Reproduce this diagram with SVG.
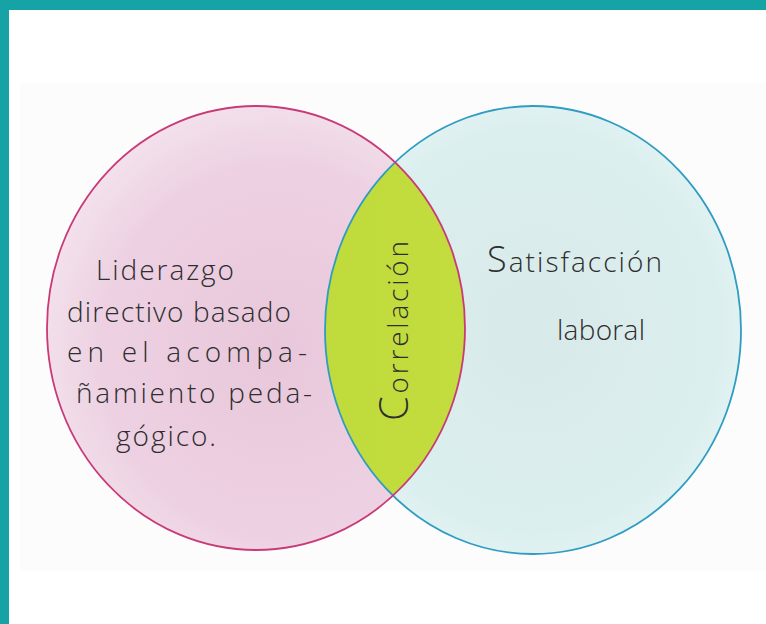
<svg xmlns="http://www.w3.org/2000/svg" width="766" height="624" viewBox="0 0 766 624">
<style>
.hand{font-family:"Open Sans","Liberation Sans",sans-serif;font-weight:300;fill:#2e2e2e;font-size:28px}
</style>
<defs>
<radialGradient id="gPink" cx="0.55" cy="0.55" r="0.6">
<stop offset="0" stop-color="#e9c7db"/>
<stop offset="0.7" stop-color="#edd1e2"/>
<stop offset="1" stop-color="#f4e4ee"/>
</radialGradient>
<radialGradient id="gBlue" cx="0.5" cy="0.5" r="0.6">
<stop offset="0" stop-color="#d8e9e9"/>
<stop offset="0.75" stop-color="#dcefef"/>
<stop offset="1" stop-color="#e7f5f6"/>
</radialGradient>
<linearGradient id="gLime" x1="0" y1="0" x2="1" y2="0">
<stop offset="0" stop-color="#cadd3e"/>
<stop offset="0.5" stop-color="#bedb3a"/>
<stop offset="1" stop-color="#c3dc3e"/>
</linearGradient>
<clipPath id="clipRight"><ellipse cx="533" cy="330" rx="208" ry="224"/></clipPath>
</defs>
<rect width="766" height="624" fill="#ffffff"/>
<rect x="20" y="83" width="746" height="488" fill="#fcfcfc"/>
<rect x="0" y="0" width="766" height="10" fill="#16a3a6"/>
<rect x="0" y="0" width="9" height="624" fill="#16a3a6"/>
<g id="liderazgo">
<ellipse cx="256" cy="328" rx="209" ry="222" fill="url(#gPink)"/>
</g>
<g id="satisfaccion">
<ellipse cx="533" cy="330" rx="208" ry="224" fill="url(#gBlue)"/>
</g>
<g id="correlacion">
<ellipse cx="256" cy="328" rx="209" ry="222" fill="url(#gLime)" clip-path="url(#clipRight)"/>
</g>
<g id="outlines" fill="none" stroke-width="1.8">
<ellipse cx="533" cy="330" rx="208" ry="224" stroke="#2f9cc2"/>
<ellipse cx="256" cy="328" rx="209" ry="222" stroke="#c93a78"/>
</g>
<g id="connectors"/>
<g id="labels-liderazgo" class="hand">
<text x="96" y="280" textLength="138" lengthAdjust="spacing">Liderazgo</text>
<text x="67" y="322" textLength="224" lengthAdjust="spacing">directivo basado</text>
<text x="67" y="362" textLength="240" lengthAdjust="spacing">en el acompa-</text>
<text x="76" y="403" textLength="236" lengthAdjust="spacing">ñamiento peda-</text>
<text x="116" y="446" textLength="100" lengthAdjust="spacing">gógico.</text>
</g>
<g id="labels-satisfaccion" class="hand">
<text x="487" y="272" textLength="175" lengthAdjust="spacing"><tspan font-size="36">S</tspan>atisfacción</text>
<text x="557" y="340" textLength="88" lengthAdjust="spacing">laboral</text>
</g>
<g id="label-correlacion" class="hand">
<text transform="translate(408,421) rotate(-90)" textLength="180" lengthAdjust="spacing"><tspan font-size="40">C</tspan>orrelación</text>
</g>
</svg>
